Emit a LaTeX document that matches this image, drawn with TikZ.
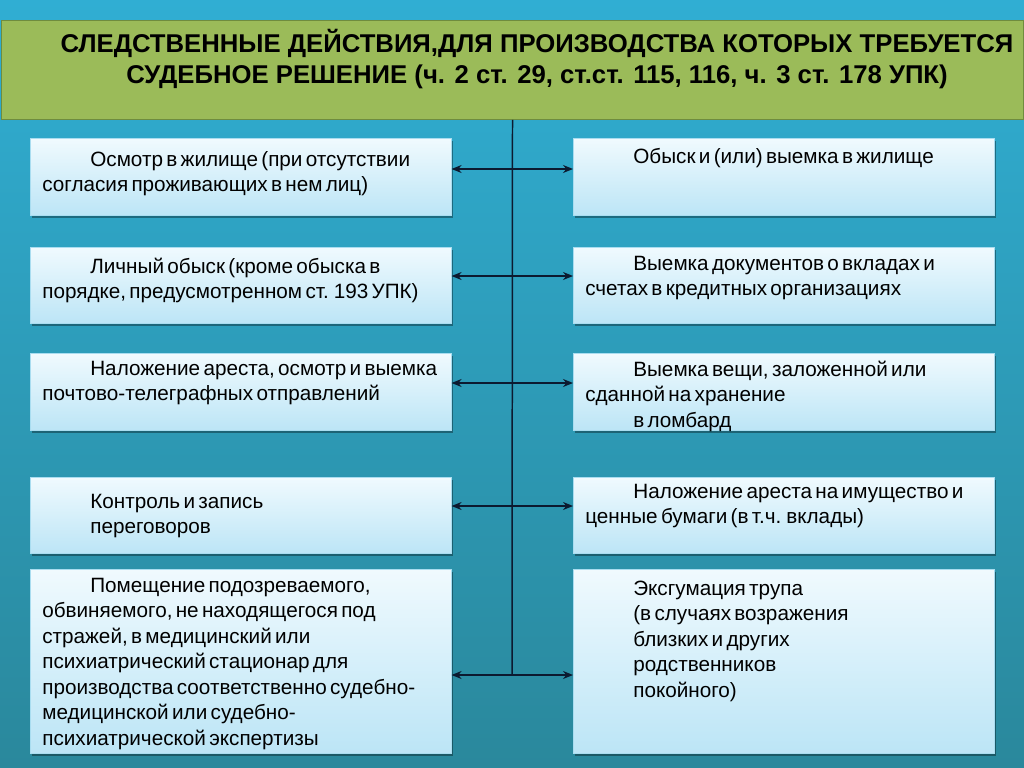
\documentclass[tikz,border=0pt]{standalone}
\usepackage{fontspec}
\setmainfont{Liberation Sans}
\usetikzlibrary{arrows.meta,shadows}
\definecolor{bgtop}{HTML}{30AED3}
\definecolor{bgbot}{HTML}{2A889C}
\definecolor{head}{HTML}{9BBB59}
\definecolor{headrim}{HTML}{6F8C3E}
\definecolor{boxtop}{HTML}{F0FAFE}
\definecolor{boxbot}{HTML}{BCE5F6}
\definecolor{boxrim}{HTML}{A9DDF0}
\definecolor{ink}{HTML}{0C1A30}
\newcommand{\itemfont}{\fontsize{20.7bp}{25.5bp}\selectfont}
\newcommand{\ind}{\hspace*{48bp}}
% box text: height, first baseline, lines
\newcommand{\boxtext}[3]{\parbox[c][#1][t]{\linewidth}{\itemfont\rule{0pt}{#2}#3}}
\tikzset{
  headbox/.style={fill=head, draw=headrim, line width=1pt, anchor=north west,
    minimum width=1022bp, minimum height=99bp, inner sep=0pt},
  title/.style={align=center, inner sep=0pt,
    font=\bfseries\fontsize{25.7bp}{31bp}\selectfont},
  item/.style={anchor=north west, draw=boxrim, line width=0.6pt,
    top color=boxtop, bottom color=boxbot,
    drop shadow={shadow xshift=2bp, shadow yshift=-3bp, fill=black, opacity=0.35},
    inner xsep=12bp, inner ysep=0pt, text width=397bp, align=left},
  spine/.style={draw=ink, line width=1.5pt},
  link/.style={spine, {Stealth[length=10bp,width=8bp]}-{Stealth[length=10bp,width=8bp]}},
}
\begin{document}
\begin{tikzpicture}[x=1bp,y=-1bp]
  \useasboundingbox (0,0) rectangle (1024,768);
  \fill[top color=bgtop, bottom color=bgbot] (0,0) rectangle (1024,768);
  % header
  \node[headbox] (head) at (1,20) {};
  \node[title] (ttl) at (537,59) {СЛЕДСТВЕННЫЕ ДЕЙСТВИЯ,ДЛЯ ПРОИЗВОДСТВА КОТОРЫХ ТРЕБУЕТСЯ\\
    СУДЕБНОЕ РЕШЕНИЕ (ч. 2 ст. 29, ст.ст. 115, 116, ч. 3 ст. 178 УПК)};
  % left column
  \node[item] (L1) at (30,138) {\boxtext{77bp}{28bp}{\ind Осмотр в жилище (при отсутствии\\
    согласия проживающих в нем лиц)}};
  \node[item] (L2) at (30,247) {\boxtext{76bp}{26bp}{\ind Личный обыск (кроме обыска в\\
    порядке, предусмотренном ст. 193 УПК)}};
  \node[item] (L3) at (30,353) {\boxtext{77bp}{22bp}{\ind\mbox{Наложение ареста, осмотр и выемка}\\
    почтово-телеграфных отправлений}};
  \node[item] (L4) at (30,477) {\boxtext{76bp}{31bp}{\ind Контроль и запись\\
    \ind переговоров}};
  \node[item] (L5) at (30,569) {\boxtext{184bp}{23bp}{\ind Помещение подозреваемого,\\
    обвиняемого, не находящегося под\\
    стражей, в медицинский или\\
    психиатрический стационар для\\
    производства соответственно судебно-\\
    медицинской или судебно-\\
    психиатрической экспертизы}};
  % right column
  \node[item] (R1) at (573,138) {\boxtext{77bp}{25bp}{\ind Обыск и (или) выемка в жилище}};
  \node[item] (R2) at (573,247) {\boxtext{76bp}{23bp}{\ind Выемка документов о вкладах и\\
    счетах в кредитных организациях}};
  \node[item] (R3) at (573,353) {\boxtext{77bp}{23bp}{\ind Выемка вещи, заложенной или\\
    сданной на хранение\\
    \ind в ломбард}};
  \node[item] (R4) at (573,477) {\boxtext{76bp}{21bp}{\ind\mbox{Наложение ареста на имущество и}\\
    ценные бумаги (в т.ч. вклады)}};
  \node[item] (R5) at (573,569) {\boxtext{184bp}{26bp}{\ind Эксгумация трупа\\
    \ind (в случаях возражения\\
    \ind близких и других\\
    \ind родственников\\
    \ind покойного)}};
  % spine and links
  \coordinate (s5) at (512,675);
  \draw[spine] (head.south) -- (s5);
  \foreach \i/\y in {1/169,2/276,3/383,4/506,5/675} {
    \coordinate (s\i) at (512,\y);
    \draw[link] (L\i.east |- s\i) -- (R\i.west |- s\i);
  }
\end{tikzpicture}
\end{document}
